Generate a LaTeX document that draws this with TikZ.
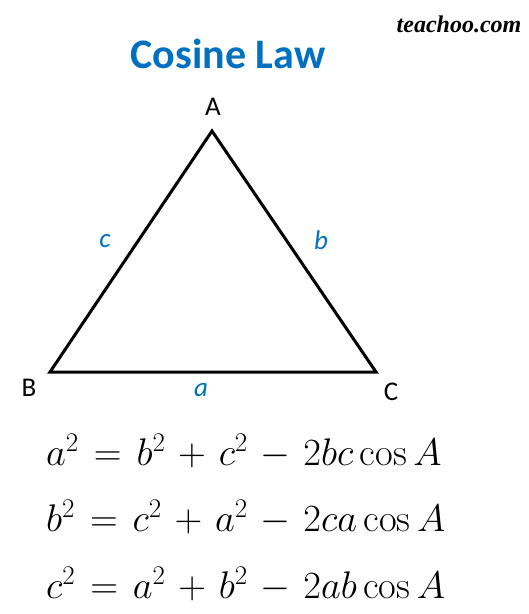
\RequirePackage{fix-cm}
\documentclass[tikz,border=0pt]{standalone}
\usepackage{fontspec}
\usepackage{amsmath}
\usepackage{tikz}
\usetikzlibrary{positioning}
\newfontfamily\carlito{Carlito}
\newfontfamily\markfont{Liberation Serif}
\definecolor{lawblue}{RGB}{0,112,192}
\tikzset{
  lawtitle/.style = {font=\carlito\bfseries\fontsize{42}{48}\selectfont,
    text=lawblue, inner sep=0pt},
  vertex/.style = {font=\carlito\fontsize{27}{32}\selectfont, inner sep=0pt},
  sidename/.style = {font=\carlito\itshape\fontsize{27}{32}\selectfont,
    text=lawblue, inner sep=0pt},
  eqn/.style = {font=\fontsize{38.5}{46}\selectfont, anchor=base west,
    inner sep=0pt},
  side/.style = {line width=3pt, line join=miter}
}

\begin{document}
\begin{tikzpicture}[x=1pt, y=-1pt]
\useasboundingbox[fill=white] (0,0) rectangle (529,614);
% watermark and title
\node (mark) at (459,24) {\markfont\bfseries\itshape\fontsize{24}{28}\selectfont teachoo.com};
\node [lawtitle] (title) at (228,54) {Cosine Law};
% the triangle
\coordinate (A) at (212,131);
\coordinate (B) at (50,372);
\coordinate (C) at (376,372);
\draw [side] (A) -- (B) -- (C) -- cycle;
\node [vertex] (la) at (213,107) {A};
\node [vertex] (lb) at (29,388) {B};
\node [vertex] (lc) at (391,392) {C};
\node [sidename] (sc) at (105,241) {c};
\node [sidename] (sb) at (321,240) {b};
\node [sidename] (sa) at (201,390) {a};
% the three laws
\thickmuskip=7mu \medmuskip=6mu
\node [eqn] (eq1) at (46,465) {$a^2 = b^2 + c^2 - 2bc\cos A$};
\node [eqn] (eq2) at (46,531) {$b^2 = c^2 + a^2 - 2ca\cos A$};
\node [eqn] (eq3) at (46,598) {$c^2 = a^2 + b^2 - 2ab\cos A$};
\end{tikzpicture}
\end{document}
